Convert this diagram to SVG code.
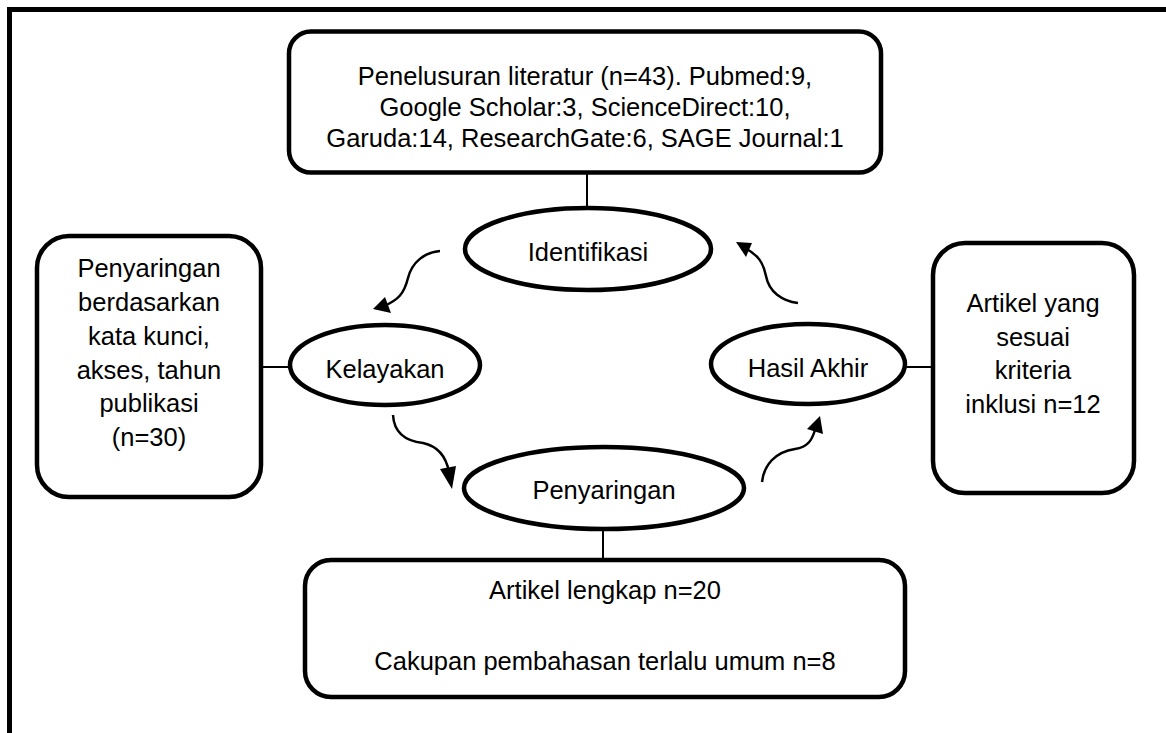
<svg xmlns="http://www.w3.org/2000/svg" width="1166" height="733" viewBox="0 0 1166 733">
<style>
.box{fill:#fff;stroke:#000;stroke-width:4.5}
.ell{fill:#fff;stroke:#000;stroke-width:4.5}
.t{font-family:"Liberation Sans",Arial,sans-serif;font-size:25.5px;fill:#000;text-anchor:middle}
.ln{stroke:#000;stroke-width:2;fill:none}
.arr{stroke:#000;stroke-width:2.5;fill:none}
.head{fill:#000}
</style>
<rect width="1166" height="733" fill="#fff"/>
<rect x="9.5" y="9.5" width="1200" height="800" fill="none" stroke="#000" stroke-width="5"/>
<g id="connectors">
<line class="ln" x1="587" y1="173" x2="587" y2="208"/>
<line class="ln" x1="262" y1="367" x2="290" y2="367"/>
<line class="ln" x1="905" y1="367" x2="933" y2="367"/>
<line class="ln" x1="603" y1="529" x2="603" y2="560"/>
<path class="arr" d="M440,251 C425,252 412,262 408,278 C404,294 398,300 384,306"/>
<polygon class="head" points="373,309 385,297 391,313"/>
<path class="arr" d="M798,303 C782,301 769,292 766,276 C763,262 758,255 745,248"/>
<polygon class="head" points="736,242 752,243 746,257"/>
<path class="arr" d="M393,415 C394,432 405,441 423,443 C437,446 446,456 449,472"/>
<polygon class="head" points="452,489 440,469 456,466"/>
<path class="arr" d="M762,482 C764,465 775,452 795,449 C808,447 812,440 815,430"/>
<polygon class="head" points="820,416 823,434 807,429"/>
</g>
<g id="node-literatur">
<rect class="box" x="289" y="31.5" width="592" height="141" rx="22"/>
<text class="t" x="585" y="85">Penelusuran literatur (n=43). Pubmed:9,</text>
<text class="t" x="585" y="116">Google Scholar:3, ScienceDirect:10,</text>
<text class="t" x="585" y="147">Garuda:14, ResearchGate:6, SAGE Journal:1</text>
</g>
<g id="node-identifikasi">
<ellipse class="ell" cx="588" cy="249" rx="123" ry="41"/>
<text class="t" x="588" y="261">Identifikasi</text>
</g>
<g id="node-penyaringan-box">
<rect class="box" x="37" y="236" width="224" height="261" rx="32"/>
<text class="t" x="149" y="277">Penyaringan</text>
<text class="t" x="149" y="311">berdasarkan</text>
<text class="t" x="149" y="345">kata kunci,</text>
<text class="t" x="149" y="379">akses, tahun</text>
<text class="t" x="149" y="412">publikasi</text>
<text class="t" x="149" y="446">(n=30)</text>
</g>
<g id="node-kelayakan">
<ellipse class="ell" cx="385" cy="365" rx="95" ry="40"/>
<text class="t" x="385" y="378">Kelayakan</text>
</g>
<g id="node-hasil">
<ellipse class="ell" cx="808" cy="364" rx="97" ry="40"/>
<text class="t" x="808" y="377">Hasil Akhir</text>
</g>
<g id="node-artikel-sesuai">
<rect class="box" x="933" y="243" width="201" height="250" rx="32"/>
<text class="t" x="1033" y="312">Artikel yang</text>
<text class="t" x="1033" y="346">sesuai</text>
<text class="t" x="1033" y="379">kriteria</text>
<text class="t" x="1033" y="413">inklusi n=12</text>
</g>
<g id="node-penyaringan">
<ellipse class="ell" cx="604" cy="488" rx="140" ry="41"/>
<text class="t" x="604" y="499">Penyaringan</text>
</g>
<g id="node-artikel-lengkap">
<rect class="box" x="305" y="560" width="600" height="137" rx="26"/>
<text class="t" x="605" y="599">Artikel lengkap n=20</text>
<text class="t" x="605" y="670">Cakupan pembahasan terlalu umum n=8</text>
</g>
</svg>
